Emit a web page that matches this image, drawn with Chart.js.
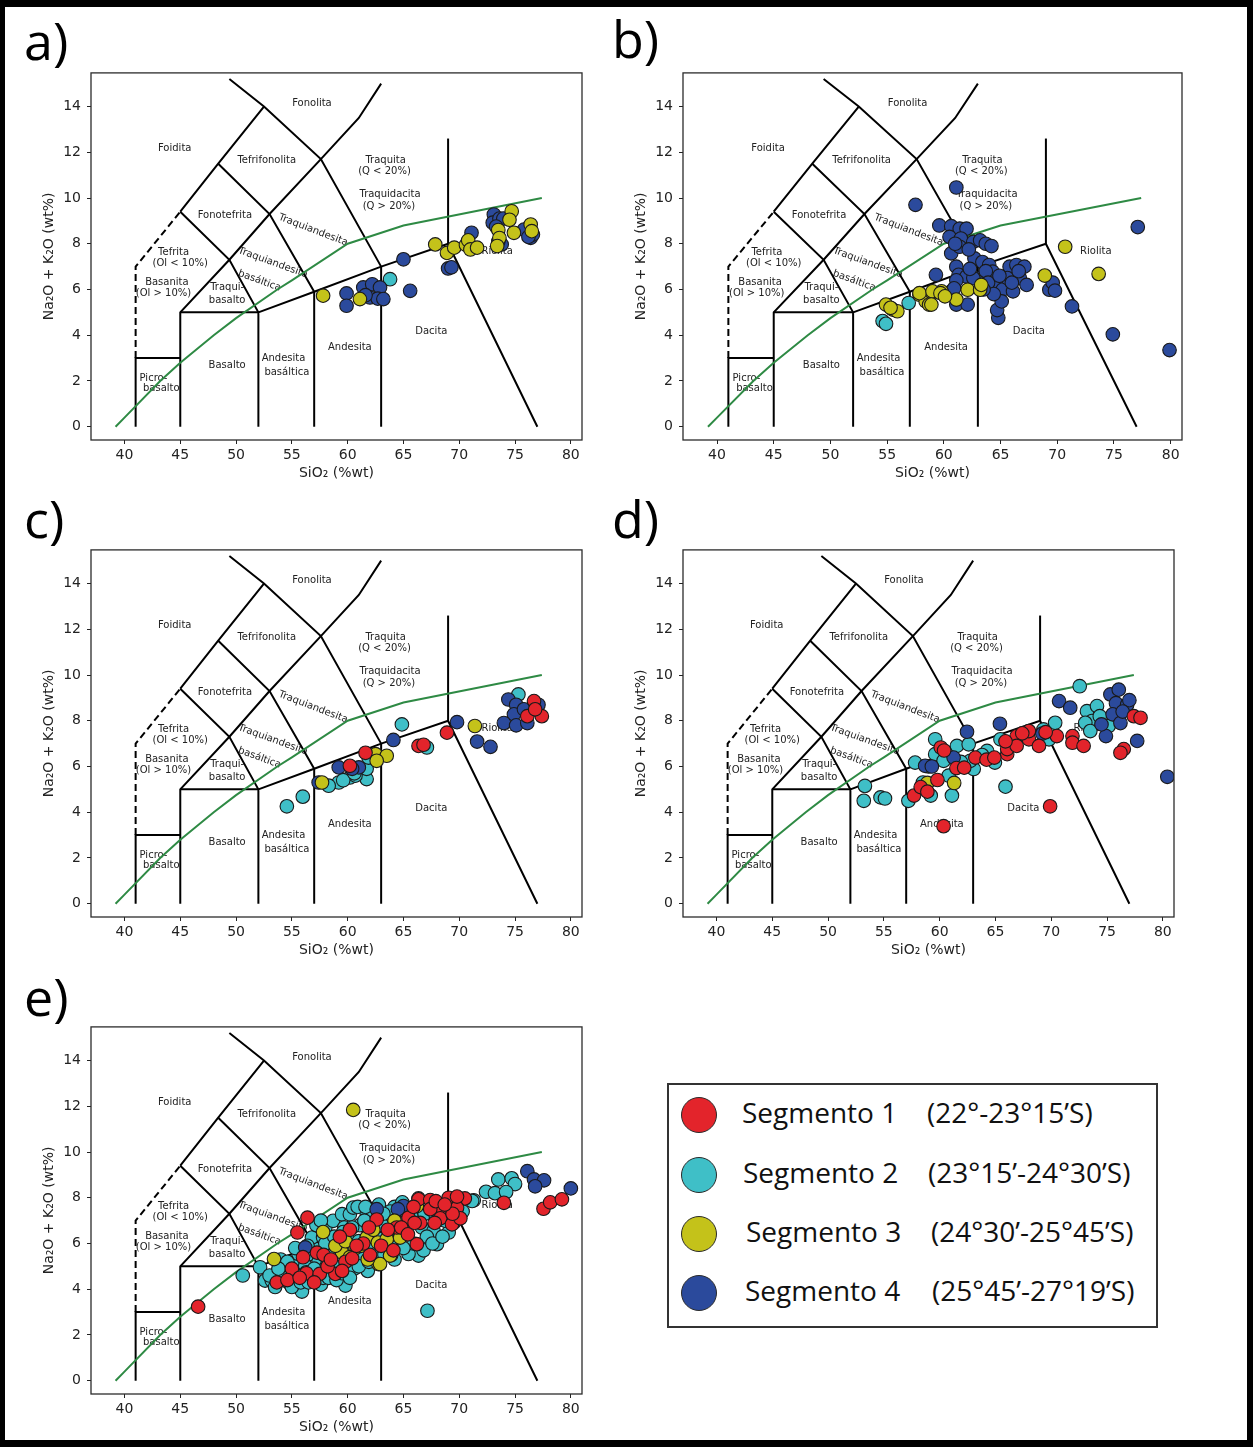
<!DOCTYPE html>
<html>
<head>
<meta charset="utf-8">
<script src="https://cdn.jsdelivr.net/npm/chart.js@4.4.1/dist/chart.umd.min.js"></script>
<style>
  html, body { margin: 0; padding: 0; background: #fff; }
  #fig { position: relative; width: 1253px; height: 1447px; overflow: hidden; background: #fff; }
  #frame { position: absolute; left: 0; top: 0; width: 1253px; height: 1447px; box-sizing: border-box;
           border: solid #000; border-width: 7px 6px 7px 5px; pointer-events: none; }
  canvas { position: absolute; }
  .tag { position: absolute; font: 400 52px "Open Sans", sans-serif; line-height: 52px; color: #000; }
  #legend { position: absolute; left: 667px; top: 1083px; width: 491px; height: 245px; box-sizing: border-box;
            border: 2px solid #333; }
  .dot { position: absolute; width: 36px; height: 36px; border-radius: 50%; box-sizing: border-box;
         border: 1.5px solid #2a2a2a; }
  .ltxt { position: absolute; font: 400 28px "Open Sans", sans-serif; line-height: 36px; color: #111; white-space: nowrap; }
</style>
</head>
<body>
<div id="fig">
  <div class="tag" style="left:24px;top:14px">a)</div>
  <div class="tag" style="left:612px;top:12px">b)</div>
  <div class="tag" style="left:24px;top:492px">c)</div>
  <div class="tag" style="left:612px;top:492px">d)</div>
  <div class="tag" style="left:24px;top:970px">e)</div>
  <canvas id="pa"></canvas>
  <canvas id="pb"></canvas>
  <canvas id="pc"></canvas>
  <canvas id="pd"></canvas>
  <canvas id="pe"></canvas>
  <div id="legend"></div>
  <div id="frame"></div>
</div>
<script>
// ---- axes ----
const X_TICKS = [40, 45, 50, 55, 60, 65, 70, 75, 80];
const Y_TICKS = [0, 2, 4, 6, 8, 10, 12, 14];
const X_RANGE = [37, 81];
const Y_RANGE = [-0.58, 15.47];

// ---- TAS field boundaries (SiO2, Na2O+K2O) ----
const TAS_LINES = [
  [[41, 0], [41, 3], [45, 3]],
  [[45, 0], [45, 5], [49.4, 7.3], [53, 9.3], [57.6, 11.7], [61, 13.5], [63, 15]],
  [[52, 0], [52, 5], [57, 5.9], [63, 7], [69, 8], [77, 0]],
  [[45, 5], [52, 5]],
  [[57, 0], [57, 5.9]],
  [[63, 0], [63, 7]],
  [[69, 8], [69, 12.6]],
  [[52, 5], [49.4, 7.3], [45, 9.4]],
  [[57, 5.9], [53, 9.3], [48.4, 11.5]],
  [[63, 7], [57.6, 11.7], [52.5, 14], [49.4, 15.2]],
  [[45, 9.4], [48.4, 11.5], [52.5, 14]],
];
const TAS_DASHED = [[41, 3], [41, 7], [45, 9.4]];
// alkaline / subalkaline divide
const ALK_X = [39.2, 40, 43.2, 45, 48, 50, 53.7, 55, 60, 65, 77.4];
const ALK_Y = [0, 0.4, 2, 2.8, 4, 4.75, 6, 6.4, 8, 8.8, 10];

const FIELD_LABELS = [
  { t: "Fonolita", x: 56.8, y: 14.13 },
  { t: "Foidita", x: 44.5, y: 12.15 },
  { t: "Tefrifonolita", x: 52.75, y: 11.64 },
  { t: "Traquita", x: 63.4, y: 11.63 },
  { t: "(Q < 20%)", x: 63.3, y: 11.16 },
  { t: "Traquidacita", x: 63.8, y: 10.15 },
  { t: "(Q > 20%)", x: 63.7, y: 9.64 },
  { t: "Fonotefrita", x: 49.0, y: 9.23 },
  { t: "Traquiandesita", x: 56.9, y: 8.6, r: 21 },
  { t: "Tefrita", x: 44.4, y: 7.61 },
  { t: "(Ol < 10%)", x: 45.0, y: 7.13 },
  { t: "Traquiandesita", x: 53.3, y: 7.17, r: 20 },
  { t: "Basanita", x: 43.8, y: 6.33 },
  { t: "(Ol > 10%)", x: 43.5, y: 5.83 },
  { t: "basáltica", x: 52.1, y: 6.38, r: 20 },
  { t: "Traqui-", x: 49.2, y: 6.09 },
  { t: "basalto", x: 49.2, y: 5.54 },
  { t: "Riolita", x: 73.4, y: 7.65 },
  { t: "Dacita", x: 67.5, y: 4.16 },
  { t: "Andesita", x: 60.2, y: 3.48 },
  { t: "Andesita", x: 54.25, y: 2.97 },
  { t: "basáltica", x: 54.55, y: 2.39 },
  { t: "Basalto", x: 49.2, y: 2.68 },
  { t: "Picro-", x: 42.6, y: 2.1 },
  { t: "basalto", x: 43.3, y: 1.67 },
];

// ---- samples, per panel and segment: [SiO2, Na2O+K2O] ----
const aSeg1 = [];
const aSeg2 = [[63.8, 6.45]];
const aSeg3 = [[57.8, 5.73], [61.1, 5.58], [67.85, 7.97], [68.9, 7.6], [69.55, 7.83], [70.6, 7.95], [70.8, 8.15],
  [71.0, 7.75], [71.6, 7.83], [73.5, 8.6], [73.6, 8.25], [74.7, 9.42], [74.5, 9.05], [74.9, 8.48], [76.4, 8.84],
  [76.5, 8.55], [73.4, 7.9]];
const aSeg4 = [[59.9, 5.83], [59.9, 5.29], [61.4, 6.09], [62.2, 6.23], [62.9, 6.09], [62.0, 5.65], [62.7, 5.6],
  [63.2, 5.58], [65.0, 7.32], [65.6, 5.94], [69.0, 6.92], [69.3, 6.97], [71.1, 8.48], [73.1, 9.28], [73.0, 8.92],
  [73.6, 9.1], [73.95, 9.1], [73.3, 8.75], [73.8, 7.97], [73.5, 8.1], [75.8, 8.62], [76.4, 8.26], [76.6, 8.4],
  [76.2, 8.3], [61.6, 5.75]];

const bSeg1 = [];
const bSeg2 = [[54.6, 4.62], [54.9, 4.5], [56.9, 5.41]];
const bSeg3 = [[54.9, 5.34], [55.5, 5.12], [55.9, 5.05], [55.3, 5.2], [57.85, 5.77], [58.4, 5.48], [59.0, 5.84],
  [59.8, 5.92], [58.7, 5.34], [57.85, 5.84], [59.0, 5.92], [59.7, 5.84], [58.9, 5.34], [61.1, 5.56], [62.1, 5.99],
  [63.2, 5.99], [63.3, 6.2], [60.1, 5.7], [70.7, 7.87], [73.65, 6.68], [68.9, 6.61]];
const bSeg4 = [[61.1, 10.46], [57.5, 9.7], [77.1, 8.73], [79.9, 3.35], [74.9, 4.04], [71.3, 5.26], [69.3, 5.99],
  [69.6, 6.3], [69.8, 5.95], [64.8, 4.76], [64.7, 5.1], [61.1, 5.34], [62.1, 5.34], [59.3, 6.64],
  [59.6, 8.8], [60.65, 8.77], [61.4, 8.66], [62.0, 8.66], [60.5, 8.3], [61.5, 8.23], [62.6, 8.08], [63.2, 8.15],
  [63.7, 8.0], [64.2, 7.9], [60.65, 7.58], [61.4, 7.87], [62.7, 7.36], [63.4, 7.2], [64.0, 7.07], [61.0, 8.0],
  [62.2, 7.75], [61.1, 7.0], [61.3, 6.64], [62.0, 6.57], [63.2, 6.5], [64.3, 6.78], [64.6, 6.2], [65.2, 6.0],
  [65.8, 7.0], [66.4, 7.07], [67.1, 7.0], [66.7, 6.5], [67.3, 6.2], [66.1, 5.92], [65.1, 5.48], [60.65, 5.92],
  [61.1, 6.4], [62.6, 6.5], [63.7, 6.8], [60.9, 6.05], [63.9, 6.3], [64.4, 5.8], [65.6, 6.5], [66.0, 6.3],
  [64.9, 6.6], [63.5, 6.0], [62.3, 6.9], [66.6, 6.8]];

const cSeg1 = [[66.35, 6.9], [68.9, 7.48], [61.6, 6.6], [60.2, 6.03], [76.7, 8.86], [76.1, 8.2], [77.4, 8.2],
  [76.8, 8.5], [66.8, 6.95]];
const cSeg2 = [[54.55, 4.26], [55.98, 4.68], [64.86, 7.84], [67.1, 6.83], [61.7, 5.45], [61.7, 5.9], [61.87, 6.39],
  [60.2, 5.52], [59.2, 5.3], [58.3, 5.16], [60.7, 5.6], [75.3, 9.15], [59.6, 5.4], [60.6, 5.7]];
const cSeg3 = [[57.7, 5.3], [62.5, 6.54], [63.5, 6.47], [62.6, 6.25], [71.4, 7.77]];
const cSeg4 = [[59.2, 5.96], [61.0, 5.96], [64.1, 7.16], [69.8, 7.94], [71.6, 7.09], [72.8, 6.86], [74.4, 8.93],
  [75.1, 8.7], [74.9, 8.28], [74.0, 7.9], [75.1, 7.8], [76.1, 7.9], [77.1, 8.7], [75.8, 8.5], [57.4, 5.3], [60.4, 5.9]];

const dSeg1 = [[69.9, 4.26], [60.35, 3.39], [76.5, 6.76], [76.2, 6.6], [77.4, 8.2], [78.0, 8.13], [57.7, 4.73],
  [58.3, 5.1], [59.8, 5.41], [60.1, 6.83], [60.4, 6.7], [61.5, 5.93], [62.2, 5.95], [63.2, 6.39], [64.2, 6.3],
  [66.05, 6.54], [66.05, 6.76], [66.9, 7.33], [66.9, 6.9], [68.0, 7.19], [68.0, 7.55], [68.9, 6.9], [70.5, 7.33],
  [71.9, 7.33], [71.9, 7.04], [72.9, 6.9], [64.9, 6.39], [65.9, 7.1], [67.4, 7.45], [69.5, 7.5], [58.9, 4.9]];
const dSeg2 = [[72.55, 9.51], [65.9, 5.12], [59.2, 4.73], [61.1, 4.73], [57.2, 4.5], [54.7, 4.65], [55.1, 4.6],
  [53.3, 5.15], [53.2, 4.5], [57.8, 6.17], [59.6, 7.19], [59.6, 6.54], [60.35, 6.25], [61.55, 6.9], [62.6, 6.97],
  [63.05, 5.89], [62.75, 6.25], [64.25, 6.68], [64.95, 6.17], [65.45, 7.19], [69.3, 7.62], [70.35, 7.91],
  [69.8, 7.19], [73.2, 8.42], [74.1, 8.64], [73.65, 7.99], [74.35, 8.2], [75.15, 7.77], [73.05, 7.91], [73.5, 7.55],
  [58.5, 5.3], [60.8, 5.6], [59.0, 6.0], [61.9, 6.2], [63.8, 6.5]];
const dSeg3 = [[58.9, 5.28], [61.3, 5.28]];
const dSeg4 = [[80.4, 5.55], [77.7, 7.12], [70.7, 8.86], [71.7, 8.57], [65.4, 7.87], [62.45, 7.52], [61.25, 6.39],
  [58.7, 6.03], [75.3, 9.15], [76.05, 9.36], [75.8, 8.77], [76.8, 8.7], [77.0, 8.9], [75.5, 8.28], [74.9, 7.33],
  [74.5, 7.84], [76.2, 7.9], [69.2, 7.44], [59.3, 6.0], [76.4, 8.4]];

const eSeg1 = [[46.6, 3.24], [56.4, 7.13], [55.5, 6.48], [77.55, 7.52], [78.15, 7.8], [79.2, 7.93], [74.0, 7.78],
  [60.2, 6.6], [57.25, 5.6], [57.85, 5.5], [56.3, 4.7], [57.5, 4.67], [58.9, 4.67], [59.8, 5.2], [60.4, 5.35],
  [62.0, 5.5], [64.4, 6.7], [53.65, 4.3], [66.35, 7.93], [67.4, 7.9], [69.05, 8.0], [70.5, 7.97], [69.8, 7.56],
  [68.3, 7.5], [67.4, 7.5], [65.45, 7.13], [66.5, 6.9], [68.3, 7.1], [69.35, 6.84], [70.1, 7.1], [64.8, 6.7],
  [66.2, 5.97], [55.0, 4.9], [58.2, 5.0], [61.4, 6.0], [63.0, 5.9], [62.6, 7.05], [67.9, 7.85], [69.4, 7.3],
  [56.0, 5.4], [54.6, 4.4], [55.7, 4.5], [57.0, 4.3], [58.5, 5.3], [59.5, 4.8], [60.8, 5.9], [61.9, 6.7],
  [63.6, 6.6], [64.1, 5.7], [65.4, 6.4], [66.0, 6.9], [67.8, 6.9], [68.7, 7.7], [69.8, 8.05], [65.9, 7.6],
  [59.3, 6.3]];
const eSeg2 = [[50.6, 4.6], [67.15, 3.06], [73.5, 8.8], [74.7, 8.85], [75.0, 8.6], [72.4, 8.26], [73.2, 8.2],
  [74.2, 8.25], [71.3, 7.89], [52.15, 4.96], [52.6, 4.38], [53.2, 4.38], [53.7, 4.74], [54.4, 4.89], [54.4, 4.38],
  [54.85, 4.23], [55.45, 4.45], [55.1, 5.17], [55.7, 5.17], [56.2, 5.03], [55.6, 5.54], [56.6, 5.54], [57.25, 5.75],
  [56.8, 6.26], [57.8, 6.26], [58.0, 6.7], [58.7, 6.99], [59.5, 7.28], [60.2, 7.28], [60.5, 7.57], [61.7, 7.35],
  [62.3, 7.28], [62.9, 7.5], [63.9, 7.35], [64.2, 7.6], [58.4, 5.83], [59.3, 6.0], [60.2, 5.7], [60.8, 5.5],
  [61.4, 5.5], [62.0, 6.5], [62.6, 6.8], [63.4, 7.0], [61.1, 6.8], [59.7, 6.7], [57.4, 5.2], [58.1, 5.0],
  [58.9, 5.0], [56.9, 4.6], [56.3, 4.74], [59.8, 4.16], [64.25, 7.2], [66.65, 6.7], [67.7, 6.55], [69.05, 6.48],
  [68.0, 5.97], [66.35, 5.47], [65.45, 5.54], [65.9, 6.0], [67.1, 6.3], [63.5, 7.1], [63.1, 6.8], [71.15, 7.86],
  [69.2, 7.86], [66.35, 7.97], [63.8, 7.4], [65.0, 7.45], [60.0, 6.2], [61.0, 6.1], [64.5, 6.4], [65.2, 6.9],
  [57.2, 6.8], [54.0, 5.3], [55.2, 4.7], [58.6, 5.5], [60.6, 4.9], [62.4, 5.8], [64.0, 5.8], [61.8, 4.8],
  [57.6, 4.2], [55.9, 3.9], [53.0, 4.6], [53.5, 4.1], [54.2, 4.6], [55.0, 4.1], [55.8, 4.3], [56.5, 4.3],
  [57.0, 4.9], [57.8, 4.5], [58.3, 4.5], [59.0, 4.4], [59.5, 4.7], [60.2, 4.5], [61.0, 5.0], [61.9, 5.2],
  [62.6, 5.3], [63.3, 5.5], [64.2, 5.3], [65.0, 5.8], [66.8, 5.7], [67.6, 6.0], [68.5, 6.3], [69.5, 6.9],
  [70.3, 7.4], [58.0, 6.0], [58.8, 6.3], [59.6, 6.5], [60.4, 6.7], [61.5, 7.0], [62.2, 6.3], [63.0, 6.2],
  [63.8, 6.0], [64.6, 6.9], [65.7, 7.2], [66.9, 7.3], [67.9, 7.2], [68.7, 7.0], [56.4, 5.9], [55.3, 5.8],
  [54.6, 5.2], [53.8, 4.9], [60.9, 7.6], [61.6, 7.6], [62.8, 7.7], [64.9, 7.8], [63.2, 7.3], [57.6, 7.0]];
const eSeg3 = [[60.5, 11.84], [53.4, 5.32], [61.7, 6.26], [62.7, 6.04], [63.6, 6.26], [62.75, 5.1], [63.9, 5.5],
  [59.5, 5.6], [58.9, 5.9], [60.7, 5.8], [63.5, 6.19], [64.7, 6.26], [63.8, 5.47], [62.9, 5.1], [66.2, 7.64],
  [61.2, 5.9], [57.8, 6.5], [64.2, 7.0], [60.2, 5.4], [61.8, 5.3], [62.3, 6.6], [59.8, 6.1], [64.9, 6.7]];
const eSeg4 = [[76.1, 9.16], [76.7, 8.8], [77.6, 8.76], [76.8, 8.5], [80.0, 8.41], [65.0, 7.64], [69.2, 7.2],
  [56.2, 5.83], [64.5, 7.5], [62.6, 7.5]];

const SEG_NAMES = ["Segmento 1", "Segmento 2", "Segmento 3", "Segmento 4"];
const SEG_RANGES = ["(22°-23°15’S)", "(23°15’-24°30’S)", "(24°30’-25°45’S)", "(25°45’-27°19’S)"];
const SEG_COLORS = ["#e3242b", "#3fbfc7", "#c4c21a", "#2b4a9c"];
const SEG_ORDER = [1, 4, 2, 3]; // lower order is drawn on top

// ---- layout of the five panels: plot-area box [left, top, right, bottom] ----
const AXIS_W = 61, AXIS_H = 46, PAD_T = 6, PAD_R = 12;
const FONT = '"DejaVu Sans", sans-serif';
const INK = "#222";

const toXY = arr => arr.map(([x, y]) => ({ x, y }));

const tasDecor = {
  id: "tasDecor",
  beforeDatasetsDraw(chart) {
    const { ctx, scales: { x, y } } = chart;
    ctx.save();
    ctx.font = "10px " + FONT;
    ctx.fillStyle = INK;
    ctx.textAlign = "center";
    ctx.textBaseline = "middle";
    FIELD_LABELS.forEach(l => {
      ctx.save();
      ctx.translate(x.getPixelForValue(l.x), y.getPixelForValue(l.y));
      if (l.r) ctx.rotate(l.r * Math.PI / 180);
      ctx.fillText(l.t, 0, 0);
      ctx.restore();
    });
    ctx.restore();
  },
  afterDraw(chart) {
    const { ctx, chartArea: a } = chart;
    ctx.save();
    ctx.strokeStyle = "#2b2b2b";
    ctx.lineWidth = 1.3;
    ctx.strokeRect(a.left, a.top, a.right - a.left, a.bottom - a.top);
    ctx.restore();
  },
};

function buildPanel(id, box, segs) {
  const [l, t, r, b] = box;
  const cv = document.getElementById(id);
  cv.width = (r - l) + AXIS_W + PAD_R;
  cv.height = (b - t) + PAD_T + AXIS_H;
  cv.style.left = (l - AXIS_W) + "px";
  cv.style.top = (t - PAD_T) + "px";

  const datasets = segs.map((pts, i) => ({
    label: SEG_NAMES[i],
    data: toXY(pts),
    backgroundColor: SEG_COLORS[i],
    borderColor: "#1a1a1a",
    borderWidth: 1.1,
    pointRadius: 6.8,
    order: SEG_ORDER[i],
  }));
  TAS_LINES.forEach(line => datasets.push({
    data: toXY(line), showLine: true, pointRadius: 0, borderColor: "#000", borderWidth: 2, order: 20,
  }));
  datasets.push({
    data: toXY(TAS_DASHED), showLine: true, pointRadius: 0, borderColor: "#000", borderWidth: 2,
    borderDash: [7, 4], order: 20,
  });
  datasets.push({
    data: ALK_X.map((x, i) => ({ x, y: ALK_Y[i] })), showLine: true, pointRadius: 0,
    borderColor: "#2e8a44", borderWidth: 2, order: 19,
  });

  new Chart(cv, {
    type: "scatter",
    data: { datasets },
    plugins: [tasDecor],
    options: {
      responsive: false,
      animation: false,
      events: [],
      layout: { padding: { left: 0, top: PAD_T, right: PAD_R, bottom: 0 } },
      plugins: { legend: { display: false }, tooltip: { enabled: false } },
      scales: {
        x: {
          type: "linear", min: X_RANGE[0], max: X_RANGE[1],
          afterBuildTicks: s => { s.ticks = X_TICKS.map(v => ({ value: v })); },
          afterFit: s => { s.height = AXIS_H; s.paddingLeft = 0; s.paddingRight = 0; },
          grid: { drawOnChartArea: false, tickLength: 4, color: INK, lineWidth: 1 },
          border: { display: false },
          ticks: { font: { family: FONT, size: 14 }, color: INK, padding: 3, maxRotation: 0, callback: v => String(v) },
          title: { display: true, text: "SiO₂ (%wt)", font: { family: FONT, size: 14 }, color: INK,
                   padding: { top: 0, bottom: 4 } },
        },
        y: {
          type: "linear", min: Y_RANGE[0], max: Y_RANGE[1],
          afterBuildTicks: s => { s.ticks = Y_TICKS.map(v => ({ value: v })); },
          afterFit: s => { s.width = AXIS_W; s.paddingTop = 0; s.paddingBottom = 0; },
          grid: { drawOnChartArea: false, tickLength: 4, color: INK, lineWidth: 1 },
          border: { display: false },
          ticks: { font: { family: FONT, size: 14 }, color: INK, padding: 6, callback: v => String(v) },
          title: { display: true, text: "Na₂O + K₂O (wt%)", font: { family: FONT, size: 14 }, color: INK,
                   padding: { top: 11, bottom: 0 } },
        },
      },
    },
  });
}

buildPanel("pa", [91, 71, 582, 440], [aSeg1, aSeg2, aSeg3, aSeg4]);
buildPanel("pb", [683, 71, 1182, 440], [bSeg1, bSeg2, bSeg3, bSeg4]);
buildPanel("pc", [91, 548, 582, 917], [cSeg1, cSeg2, cSeg3, cSeg4]);
buildPanel("pd", [683, 548, 1174, 917], [dSeg1, dSeg2, dSeg3, dSeg4]);
buildPanel("pe", [91, 1025, 582, 1394], [eSeg1, eSeg2, eSeg3, eSeg4]);

// ---- legend box (its own panel in the figure) ----
const legend = document.getElementById("legend");
const ROW_Y = [1115, 1175, 1234, 1292.5];
const NAME_X = [742, 743, 746, 745];
const RANGE_X = [927, 928, 931, 932];
SEG_NAMES.forEach((name, i) => {
  const top = ROW_Y[i] - 1083;
  legend.insertAdjacentHTML("beforeend",
    `<span class="dot" style="left:${699 - 667 - 18 - 2}px;top:${top - 18 - 2}px;background:${SEG_COLORS[i]}"></span>` +
    `<span class="ltxt" style="left:${NAME_X[i] - 667 - 2}px;top:${top - 21 - 2}px">${name}</span>` +
    `<span class="ltxt" style="left:${RANGE_X[i] - 667 - 2}px;top:${top - 21 - 2}px">${SEG_RANGES[i]}</span>`);
});
</script>
</body>
</html>
